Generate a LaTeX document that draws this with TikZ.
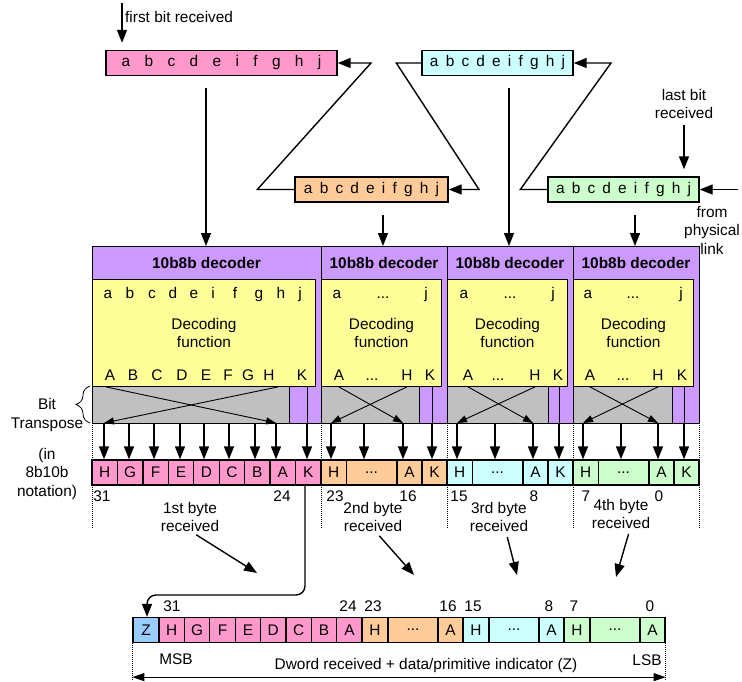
\documentclass[tikz,border=0pt]{standalone}
\usepackage{fontspec}
\setmainfont{Liberation Sans}
\usetikzlibrary{arrows.meta, decorations.pathreplacing}

\definecolor{pinkbit}{HTML}{FF99CC}
\definecolor{orangebit}{HTML}{FFCC99}
\definecolor{cyanbit}{HTML}{CCFFFF}
\definecolor{greenbit}{HTML}{CCFFCC}
\definecolor{zbit}{HTML}{99CCFF}
\definecolor{decpurple}{HTML}{CC99FF}
\definecolor{decyellow}{HTML}{FFFF99}
\definecolor{xposegray}{HTML}{C0C0C0}

\newcommand{\tenbits}[1]{a\hspace{#1}b\hspace{#1}c\hspace{#1}d\hspace{#1}e\hspace{#1}i\hspace{#1}f\hspace{#1}g\hspace{#1}h\hspace{#1}j}

\tikzset{
    txt/.style={font=\fontsize{15.4}{18.5}\selectfont, inner sep=0pt},
    title/.style={font=\fontsize{15.4}{18.5}\selectfont\bfseries, inner sep=0pt},
    rxbox/.style={txt, draw, line width=1.4pt, minimum height=25pt},
    decbox/.style={draw, line width=1.4pt, fill=decpurple, inner sep=0pt},
    fnbox/.style={draw, line width=0.9pt, fill=decyellow, inner sep=0pt},
    xpbox/.style={draw, line width=0.6pt, fill=xposegray, inner sep=0pt},
    cell/.style={txt, draw, line width=1.3pt, minimum height=25pt},
    arr/.style={line width=1.4pt, -{Triangle[length=13pt, width=10pt]}},
    xarr/.style={line width=0.9pt, -{Triangle[length=10pt, width=7pt]}},
    dblarr/.style={line width=1pt, {Triangle[length=12pt, width=8pt]}-{Triangle[length=12pt, width=8pt]}},
    sep/.style={densely dotted, line width=1pt},
}

\begin{document}
\begin{tikzpicture}[x=1pt, y=-1pt]
    \useasboundingbox (0,0) rectangle (742,681);

    % 1. Received 10-bit characters
    \node[rxbox, fill=pinkbit, minimum width=231pt] (rx1) at (221.5,63) {\tenbits{14.4pt}};
    \node[rxbox, fill=orangebit, minimum width=153pt] (rx2) at (371.5,189.5) {\tenbits{7.2pt}};
    \node[rxbox, fill=cyanbit, minimum width=151pt] (rx3) at (497.5,63) {\tenbits{7.2pt}};
    \node[rxbox, fill=greenbit, minimum width=151pt] (rx4) at (623.5,189.5) {\tenbits{7.2pt}};

    \coordinate (firstin) at (122,3);
    \coordinate (lastin) at (684,125);
    \coordinate (linkin) at (738,189.5);
    \node[txt, anchor=west] (firstlbl) at (125,17) {first bit received};
    \node[txt, align=center] (lastlbl) at (684,104) {last bit\\received};
    \node[txt, align=center] (linklbl) at (712,230) {from\\physical\\link};

    \draw[arr, shorten >=7pt] (firstin) -- (firstin |- rx1.north);
    \draw[arr, shorten >=7pt] (lastin) -- (lastin |- rx4.north);
    \draw[arr] (linkin) -- (rx4.east);
    \draw[arr] (rx4.west) -- ++(-27,0) -- (611,63) -- (rx3.east);
    \draw[arr] (rx3.west) -- ++(-25,0) -- (479,189.5) -- (rx2.east);
    \draw[arr] (rx2.west) -- ++(-37,0) -- (371,63) -- (rx1.east);

    % 2. The four decoders
    \foreach \x in {92,321,447,573,699}
        \draw[sep] (\x,327) -- (\x,528);

    \foreach \l/\r/\ye/\gr/\k [count=\i] in {92/321/315/289/307, 321/447/441/419/432, 447/573/567/548/559, 573/699/693/672/684} {
        \pgfmathsetmacro\dw{\r-\l}
        \pgfmathsetmacro\fw{\ye-\l}
        \pgfmathsetmacro\gw{\gr-\l}
        \node[decbox, minimum width=\dw pt, minimum height=177pt, anchor=north west] (dec\i) at (\l,246) {};
        \node[fnbox, minimum width=\fw pt, minimum height=107pt, anchor=north west] (fn\i) at (\l,279) {};
        \node[xpbox, minimum width=\gw pt, minimum height=37pt, anchor=north west] (xp\i) at (\l,386) {};
        \draw[line width=0.8pt] (\k,386) -- (\k,423);
        \node[title] (name\i) at ({(\l+\r)/2},263) {10b8b decoder};
        \node[txt, align=center] (dfn\i) at (fn\i.center) {Decoding\\function};
    }

    \draw[arr] (rx1.south) ++(-15.5,12) -- (dec1.north -| 206,0);
    \draw[arr, shorten <=12pt] (rx2.south -| 383,0) -- (dec2.north -| 383,0);
    \draw[arr, shorten <=12pt] (rx3.south -| 509,0) -- (dec3.north -| 509,0);
    \draw[arr, shorten <=12pt] (rx4.south -| 635,0) -- (dec4.north -| 635,0);

    \foreach \t/\x in {a/108,b/130,c/152,d/173,e/194,i/213,f/235,g/259,h/281,j/300}
        \node[txt, anchor=base] (in\t) at (\x,298) {\t};
    \foreach \t/\x in {A/110,B/133,C/157,D/182,E/206,F/228,G/248,H/269,K/302}
        \node[txt, anchor=base] (out\t) at (\x,380) {\t};
    \foreach \xa/\xd/\xj/\xA/\xD/\xH/\xK [count=\n from 2] in {337/383/426/339/372/407/430, 464/510/553/468/498/535/558, 588/633/681/590/623/658/682} {
        \node[txt, anchor=base] (ina\n) at (\xa,298) {a};
        \node[txt, anchor=base] (indots\n) at (\xd,298) {...};
        \node[txt, anchor=base] (inj\n) at (\xj,298) {j};
        \node[txt, anchor=base] (outA\n) at (\xA,380) {A};
        \node[txt, anchor=base] (outdots\n) at (\xD,380) {...};
        \node[txt, anchor=base] (outH\n) at (\xH,380) {H};
        \node[txt, anchor=base] (outK\n) at (\xK,380) {K};
    }

    % 3. Bytes after the bit transpose
    \foreach \t [count=\i] in {H,G,F,E,D,C,B,A,K}
        \node[cell, fill=pinkbit, minimum width=25.44pt] (r\t) at ({92+(\i-0.5)*25.44},472.5) {\t};
    \foreach \c/\l [count=\n from 2] in {orangebit/321, cyanbit/447, greenbit/573} {
        \node[cell, fill=\c, minimum width=25.5pt] (hi\n) at (\l+12.75,472.5) {H};
        \node[cell, fill=\c, minimum width=50pt] (mid\n) at (\l+50.5,472.5) {...};
        \node[cell, fill=\c, minimum width=25pt] (lo\n) at (\l+88.5,472.5) {A};
        \node[cell, fill=\c, minimum width=25pt] (k\n) at (\l+113.5,472.5) {K};
    }

    \foreach \t/\x in {H/104,G/129,F/154,E/180,D/204,C/229,B/255,A/276,K/307} {
        \coordinate (col\t) at (\x,423);
        \draw[arr] (col\t) -- (col\t |- r\t.north);
    }
    \foreach \xh/\xm/\xa/\xk [count=\n from 2] in {331/364/403/432, 457/495/533/559, 583/621/658/684} {
        \coordinate (hcol\n) at (\xh,423);
        \coordinate (mcol\n) at (\xm,423);
        \coordinate (acol\n) at (\xa,423);
        \coordinate (kcol\n) at (\xk,423);
        \draw[arr] (hcol\n) -- (hcol\n |- hi\n.north);
        \draw[arr] (mcol\n) -- (mcol\n |- mid\n.north);
        \draw[arr] (acol\n) -- (acol\n |- lo\n.north);
        \draw[arr] (kcol\n) -- (kcol\n |- k\n.north);
        \draw[xarr] (outA\n |- fn\n.south) -- (acol\n);
        \draw[xarr] (outH\n |- fn\n.south) -- (hcol\n);
    }
    \draw[xarr] ([xshift=-4pt]outA |- fn1.south) -- (colA);
    \draw[xarr] ([xshift=9pt]outH |- fn1.south) -- (colH);

    \draw[decorate, decoration={brace, amplitude=14pt}, line width=0.8pt] (90,423) -- (90,386);
    \node[txt, align=center] (xplbl) at (47,415) {Bit\\Transpose};
    \node[txt, align=center] (notelbl) at (47,474) {(in\\8b10b\\notation)};

    \foreach \t/\x in {31/102,24/282,23/335,16/408,15/459,8/534,7/586,0/659}
        \node[txt, anchor=base] (n\t) at (\x,501) {\t};

    \node[txt, align=center] (byte1) at (190,517) {1st byte\\received};
    \node[txt, align=center] (byte2) at (373,517) {2nd byte\\received};
    \node[txt, align=center] (byte3) at (499,517) {3rd byte\\received};
    \node[txt, align=center] (byte4) at (621,514) {4th byte\\received};
    \coordinate (tip1) at (257,573);
    \coordinate (tip2) at (414,575);
    \coordinate (tip3) at (517,575);
    \coordinate (tip4) at (616,577);
    \draw[arr, shorten <=5pt] ([xshift=2pt]byte1.south) -- (tip1);
    \draw[arr, shorten <=5pt] ([xshift=3pt]byte2.south) -- (tip2);
    \draw[arr, shorten <=5pt] ([xshift=7pt]byte3.south) -- (tip3);
    \draw[arr, shorten <=5pt] ([xshift=9pt]byte4.south) -- (tip4);

    % 4. Dword with the data/primitive indicator
    \node[cell, fill=zbit, minimum width=26pt] (zc) at (146,630) {Z};
    \foreach \t [count=\i] in {H,G,F,E,D,C,B,A}
        \node[cell, fill=pinkbit, minimum width=25.4pt] (dw\t) at ({159+(\i-0.5)*25.4},630) {\t};
    \foreach \c/\l [count=\n from 2] in {orangebit/362, cyanbit/463, greenbit/564} {
        \node[cell, fill=\c, minimum width=26pt] (dwhi\n) at (\l+13,630) {H};
        \node[cell, fill=\c, minimum width=50pt] (dwmid\n) at (\l+51,630) {...};
        \node[cell, fill=\c, minimum width=25pt] (dwlo\n) at (\l+88.5,630) {A};
    }

    \coordinate (kturn) at (147,595);
    \draw[arr, rounded corners=9pt] ([xshift=-2pt]colK |- rK.south) |- (kturn) -- (kturn |- zc.north);

    \foreach \t/\x in {31/172,24/348,23/373,16/448,15/473,8/549,7/574,0/650}
        \node[txt, anchor=base] (m\t) at (\x,611) {\t};

    \node[txt] (msb) at (176,659) {MSB};
    \node[txt] (lsb) at (647,660) {LSB};
    \node[txt] (dwlbl) at (426,666) {Dword received + data/primitive indicator (Z)};
    \draw[sep] (zc.south west) -- ++(0,38) coordinate (msbend);
    \draw[sep] (dwlo4.south east) -- ++(0,38) coordinate (lsbend);
    \draw[dblarr] ([yshift=4pt]msbend) -- ([yshift=4pt]lsbend);

\end{tikzpicture}
\end{document}
